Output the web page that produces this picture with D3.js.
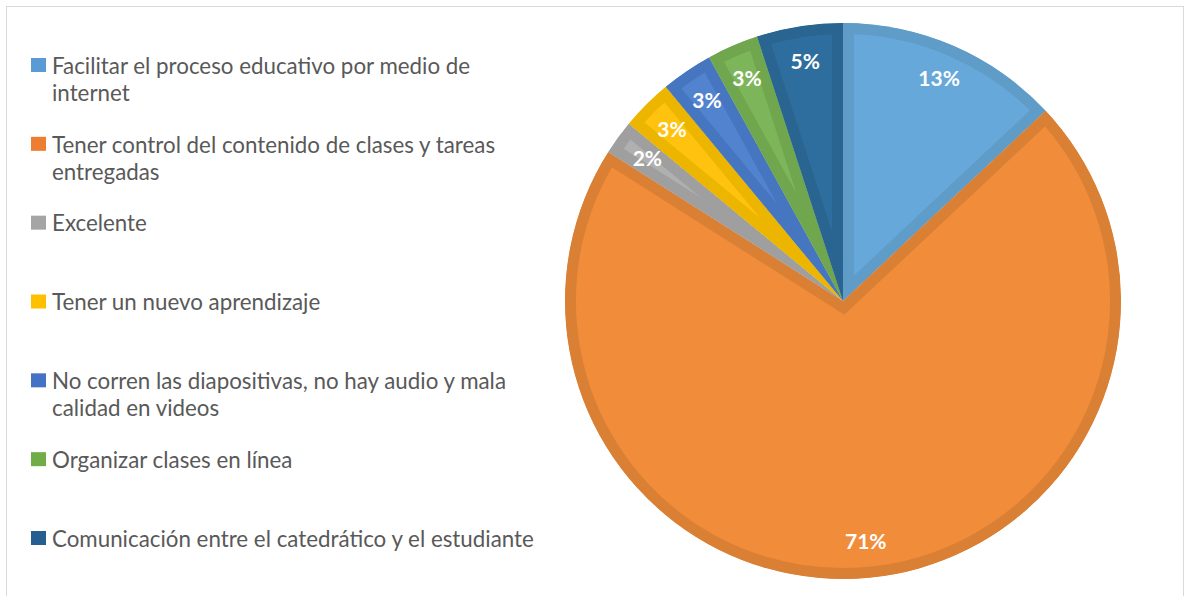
<!DOCTYPE html>
<meta charset="utf-8">
<title>Pie</title>
<style>
  body { margin: 0; background: #fff; }
  text { font-family: Lato, "Open Sans", sans-serif; }
</style>
<body>
<script src="https://d3js.org/d3.v7.min.js"></script>
<script>

const categories = [
  "Facilitar el proceso educativo por medio de internet",
  "Tener control del contenido de clases y tareas entregadas",
  "Excelente",
  "Tener un nuevo aprendizaje",
  "No corren las diapositivas, no hay audio y mala calidad en videos",
  "Organizar clases en línea",
  "Comunicación entre el catedrático y el estudiante"
];
const legendLines = [
  ["Facilitar el proceso educativo por medio de", "internet"],
  ["Tener control del contenido de clases y tareas", "entregadas"],
  ["Excelente"],
  ["Tener un nuevo aprendizaje"],
  ["No corren las diapositivas, no hay audio y mala", "calidad en videos"],
  ["Organizar clases en línea"],
  ["Comunicación entre el catedrático y el estudiante"]
];
const values = [13, 71, 2, 3, 3, 3, 5];
const labels = ["13%", "71%", "2%", "3%", "3%", "3%", "5%"];
const fills = ["#67a8da", "#f08c3a", "#b0b0b0", "#ffc20e", "#5183ce", "#7db55a", "#2e6e9e"];
const edges = ["#5f9cc8", "#da8035", "#9f9f9f", "#ecb600", "#4776c0", "#70a64e", "#2a6490"];
const keys = ["#5b9bd5", "#ed7d31", "#a5a5a5", "#ffc000", "#4472c4", "#70ad47", "#255e91"];

const width = 1186, height = 596;
const cx = 843, cy = 301, R = 278;

const svg = d3.select("body").append("svg")
    .attr("width", width)
    .attr("height", height);

svg.append("rect")
    .attr("x", 6.5).attr("y", 6.5)
    .attr("width", 1177).attr("height", 620)
    .attr("fill", "none")
    .attr("stroke", "#d9d9d9");

const pie = d3.pie().sort(null).value(d => d);
const arcs = pie(values);
const arc = d3.arc().innerRadius(0).outerRadius(R);
const labelArc = d3.arc().innerRadius(R * 0.87).outerRadius(R * 0.87);

const defs = svg.append("defs");
arcs.forEach((d, i) => {
  defs.append("clipPath").attr("id", "clip" + i)
    .append("path").attr("d", arc(d));
});

const g = svg.append("g").attr("transform", `translate(${cx},${cy})`);

g.selectAll("path.slice")
  .data(arcs)
  .enter().append("path")
    .attr("class", "slice")
    .attr("d", arc)
    .attr("fill", (d, i) => fills[i])
    .attr("stroke", (d, i) => edges[i])
    .attr("stroke-width", 22)
    .attr("stroke-linejoin", "miter")
    .attr("clip-path", (d, i) => `url(#clip${i})`);

g.selectAll("text.pct")
  .data(arcs)
  .enter().append("text")
    .attr("class", "pct")
    .attr("transform", d => `translate(${labelArc.centroid(d)})`)
    .attr("text-anchor", "middle")
    .attr("dy", "0.35em")
    .attr("fill", "#fff")
    .attr("font-weight", "bold")
    .attr("font-size", 21)
    .text((d, i) => labels[i]);

// legend
const legendY = d3.scaleLinear().domain([0, categories.length - 1]).range([66, 539]);
const legend = svg.append("g");
const items = legend.selectAll("g.item")
  .data(categories)
  .enter().append("g")
    .attr("class", "item")
    .attr("transform", (d, i) => `translate(0,${legendY(i)})`);

items.append("rect")
    .attr("x", 31).attr("y", -8)
    .attr("width", 15).attr("height", 14)
    .attr("fill", (d, i) => keys[i]);

const txt = items.append("text")
    .attr("x", 52)
    .attr("fill", "#595959")
    .attr("font-size", 20);

txt.selectAll("tspan")
  .data((d, i) => legendLines[i])
  .enter().append("tspan")
    .attr("x", 52)
    .attr("y", (d, j) => j * 27)
    .attr("dy", "0.35em")
    .text(d => d);

// fit font size so the longest line matches the reference width
let maxW = 0;
txt.selectAll("tspan").each(function() { maxW = Math.max(maxW, this.getComputedTextLength()); });
const fs = 20 * 482 / maxW;
txt.attr("font-size", fs);

</script>
</body>
